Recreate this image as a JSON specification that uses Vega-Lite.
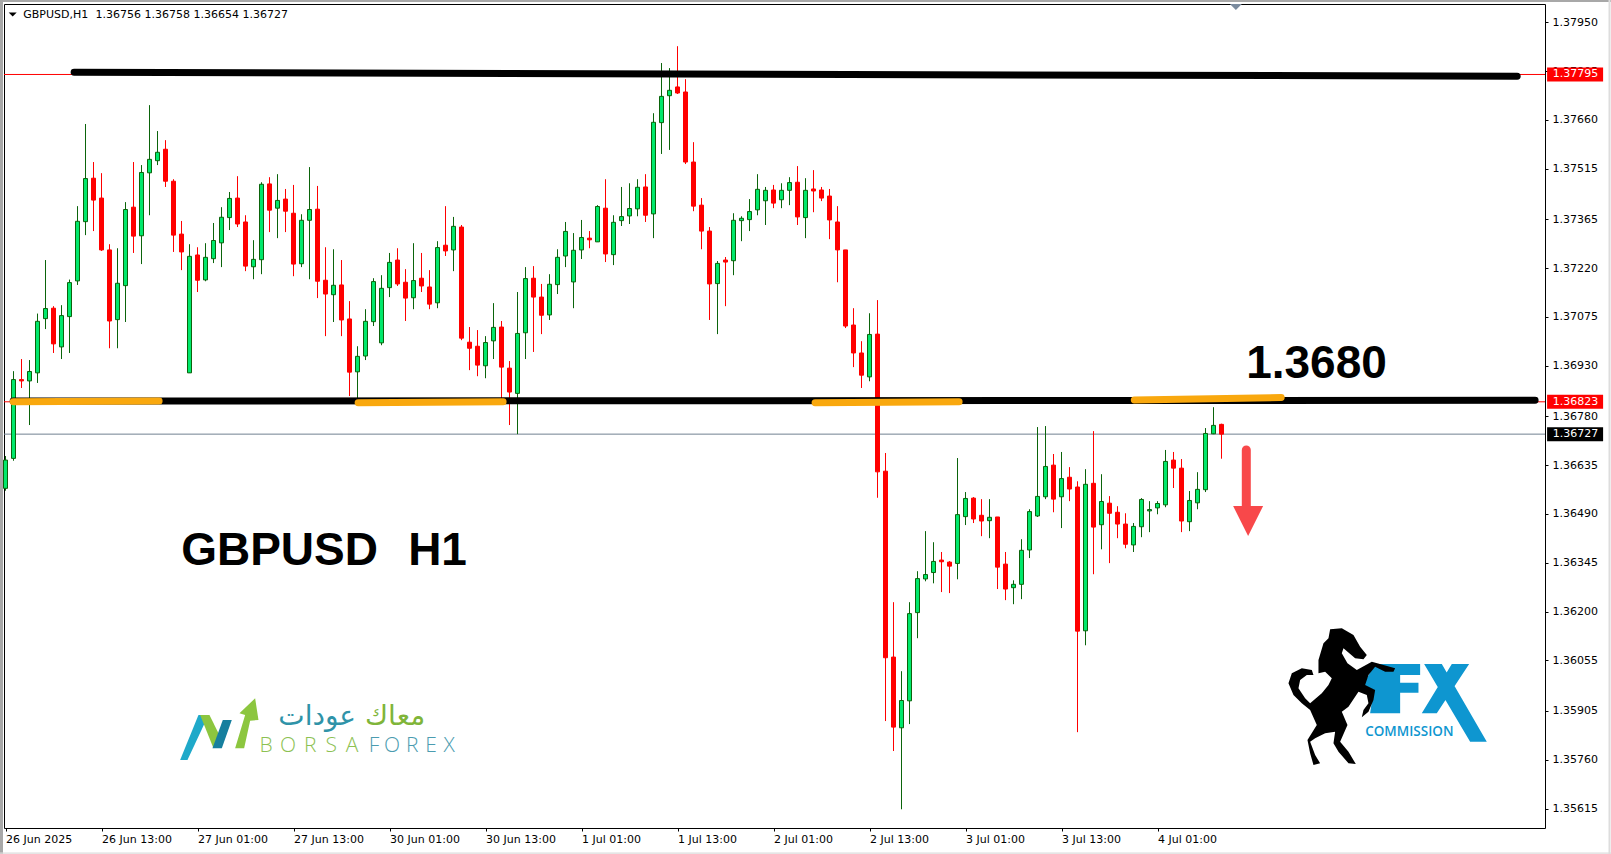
{"$schema":"https://vega.github.io/schema/vega-lite/v6.json","width":1541,"height":824,"autosize":{"type":"none"},"padding":{"left":4,"top":4,"right":66,"bottom":26},"background":"white","view":{"stroke":"#000","strokeWidth":1,"fill":"white"},
"datasets":{"candles":[
{"i":0,"o":1.36566,"h":1.36662,"l":1.36559,"c":1.3665},
{"i":1,"o":1.36655,"h":1.36914,"l":1.36648,"c":1.36889},
{"i":2,"o":1.36889,"h":1.3695,"l":1.36864,"c":1.36885},
{"i":3,"o":1.36885,"h":1.36947,"l":1.36754,"c":1.36913},
{"i":4,"o":1.36909,"h":1.37085,"l":1.36879,"c":1.37062},
{"i":5,"o":1.3707,"h":1.37244,"l":1.37039,"c":1.371},
{"i":6,"o":1.37101,"h":1.37107,"l":1.36968,"c":1.36995},
{"i":7,"o":1.36986,"h":1.3711,"l":1.3695,"c":1.37079},
{"i":8,"o":1.37076,"h":1.37186,"l":1.36968,"c":1.37177},
{"i":9,"o":1.37182,"h":1.37404,"l":1.3717,"c":1.37359},
{"i":10,"o":1.37358,"h":1.37648,"l":1.37318,"c":1.37486},
{"i":11,"o":1.37487,"h":1.37535,"l":1.3733,"c":1.37422},
{"i":12,"o":1.37428,"h":1.37502,"l":1.37271,"c":1.37274},
{"i":13,"o":1.37274,"h":1.37291,"l":1.36982,"c":1.37063},
{"i":14,"o":1.37067,"h":1.37279,"l":1.36982,"c":1.37175},
{"i":15,"o":1.37168,"h":1.37416,"l":1.3706,"c":1.37394},
{"i":16,"o":1.37401,"h":1.37535,"l":1.37265,"c":1.37315},
{"i":17,"o":1.37316,"h":1.37526,"l":1.37232,"c":1.37504},
{"i":18,"o":1.37503,"h":1.37704,"l":1.37377,"c":1.37543},
{"i":19,"o":1.37539,"h":1.37627,"l":1.37526,"c":1.37564},
{"i":20,"o":1.37573,"h":1.376,"l":1.37461,"c":1.37478},
{"i":21,"o":1.37478,"h":1.37484,"l":1.37268,"c":1.37318},
{"i":22,"o":1.37321,"h":1.3736,"l":1.37214,"c":1.37268},
{"i":23,"o":1.36909,"h":1.37291,"l":1.36909,"c":1.37255},
{"i":24,"o":1.37259,"h":1.37282,"l":1.37149,"c":1.37184},
{"i":25,"o":1.37185,"h":1.37294,"l":1.37181,"c":1.37252},
{"i":26,"o":1.37248,"h":1.37354,"l":1.37235,"c":1.37302},
{"i":27,"o":1.37295,"h":1.37401,"l":1.37223,"c":1.37371},
{"i":28,"o":1.3737,"h":1.37446,"l":1.37333,"c":1.37427},
{"i":29,"o":1.37428,"h":1.37493,"l":1.37342,"c":1.37351},
{"i":30,"o":1.37357,"h":1.37377,"l":1.37211,"c":1.37226},
{"i":31,"o":1.37224,"h":1.37303,"l":1.37187,"c":1.37246},
{"i":32,"o":1.37245,"h":1.37475,"l":1.37202,"c":1.37469},
{"i":33,"o":1.3747,"h":1.3749,"l":1.37327,"c":1.37392},
{"i":34,"o":1.37398,"h":1.37499,"l":1.37309,"c":1.37421},
{"i":35,"o":1.37425,"h":1.37455,"l":1.37327,"c":1.37389},
{"i":36,"o":1.37383,"h":1.37467,"l":1.37196,"c":1.37232},
{"i":37,"o":1.37233,"h":1.3738,"l":1.37223,"c":1.37362},
{"i":38,"o":1.37362,"h":1.3752,"l":1.37187,"c":1.37394},
{"i":39,"o":1.37395,"h":1.37464,"l":1.37131,"c":1.37181},
{"i":40,"o":1.37184,"h":1.37282,"l":1.37018,"c":1.37143},
{"i":41,"o":1.37141,"h":1.37276,"l":1.3706,"c":1.37169},
{"i":42,"o":1.3717,"h":1.37244,"l":1.37018,"c":1.37066},
{"i":43,"o":1.37069,"h":1.37122,"l":1.3684,"c":1.36911},
{"i":44,"o":1.36912,"h":1.36988,"l":1.36818,"c":1.36958},
{"i":45,"o":1.36959,"h":1.37098,"l":1.36947,"c":1.37062},
{"i":46,"o":1.37061,"h":1.3719,"l":1.37048,"c":1.3718},
{"i":47,"o":1.36998,"h":1.37199,"l":1.36991,"c":1.3716},
{"i":48,"o":1.37162,"h":1.37265,"l":1.37134,"c":1.37237},
{"i":49,"o":1.37244,"h":1.37279,"l":1.37167,"c":1.37173},
{"i":50,"o":1.37178,"h":1.37217,"l":1.37063,"c":1.37131},
{"i":51,"o":1.37132,"h":1.37294,"l":1.37098,"c":1.37183},
{"i":52,"o":1.3719,"h":1.37265,"l":1.37149,"c":1.37167},
{"i":53,"o":1.37164,"h":1.37214,"l":1.37098,"c":1.37113},
{"i":54,"o":1.37117,"h":1.373,"l":1.37101,"c":1.37281},
{"i":55,"o":1.37288,"h":1.37404,"l":1.37256,"c":1.37271},
{"i":56,"o":1.37274,"h":1.37372,"l":1.37211,"c":1.37344},
{"i":57,"o":1.37342,"h":1.37348,"l":1.37006,"c":1.37012},
{"i":58,"o":1.37,"h":1.37045,"l":1.36917,"c":1.36982},
{"i":59,"o":1.36988,"h":1.37036,"l":1.36899,"c":1.36932},
{"i":60,"o":1.3693,"h":1.37018,"l":1.36893,"c":1.36999},
{"i":61,"o":1.37004,"h":1.37116,"l":1.3695,"c":1.37044},
{"i":62,"o":1.37045,"h":1.37063,"l":1.36828,"c":1.36926},
{"i":63,"o":1.36923,"h":1.36944,"l":1.36754,"c":1.36852},
{"i":64,"o":1.36848,"h":1.37149,"l":1.36727,"c":1.37026},
{"i":65,"o":1.37028,"h":1.37223,"l":1.3695,"c":1.37189},
{"i":66,"o":1.3719,"h":1.37226,"l":1.36971,"c":1.37134},
{"i":67,"o":1.37134,"h":1.37173,"l":1.37024,"c":1.3708},
{"i":68,"o":1.37081,"h":1.37202,"l":1.37066,"c":1.37172},
{"i":69,"o":1.37171,"h":1.37276,"l":1.37143,"c":1.37252},
{"i":70,"o":1.37256,"h":1.37357,"l":1.37223,"c":1.37329},
{"i":71,"o":1.37179,"h":1.37324,"l":1.37101,"c":1.37273},
{"i":72,"o":1.37274,"h":1.37363,"l":1.37247,"c":1.37311},
{"i":73,"o":1.37309,"h":1.3733,"l":1.37279,"c":1.37304},
{"i":74,"o":1.37298,"h":1.37407,"l":1.37298,"c":1.37403},
{"i":75,"o":1.37398,"h":1.37484,"l":1.37238,"c":1.37262},
{"i":76,"o":1.3726,"h":1.37377,"l":1.37229,"c":1.37356},
{"i":77,"o":1.37361,"h":1.37461,"l":1.37345,"c":1.37373},
{"i":78,"o":1.37375,"h":1.37472,"l":1.37351,"c":1.37397},
{"i":79,"o":1.37396,"h":1.37484,"l":1.37374,"c":1.3746},
{"i":80,"o":1.37461,"h":1.37499,"l":1.37357,"c":1.37377},
{"i":81,"o":1.37381,"h":1.3768,"l":1.37309,"c":1.37653},
{"i":82,"o":1.37652,"h":1.37829,"l":1.37559,"c":1.3773},
{"i":83,"o":1.37732,"h":1.37814,"l":1.37571,"c":1.37748},
{"i":84,"o":1.37758,"h":1.37879,"l":1.37737,"c":1.3774},
{"i":85,"o":1.37743,"h":1.37781,"l":1.37529,"c":1.37535},
{"i":86,"o":1.37535,"h":1.37594,"l":1.37389,"c":1.37404},
{"i":87,"o":1.37407,"h":1.37428,"l":1.37276,"c":1.3733},
{"i":88,"o":1.3733,"h":1.37342,"l":1.37066,"c":1.37173},
{"i":89,"o":1.37174,"h":1.37241,"l":1.37024,"c":1.37234},
{"i":90,"o":1.37244,"h":1.37253,"l":1.37107,"c":1.37238},
{"i":91,"o":1.37242,"h":1.37383,"l":1.37199,"c":1.37362},
{"i":92,"o":1.37361,"h":1.37374,"l":1.373,"c":1.37368},
{"i":93,"o":1.37364,"h":1.37425,"l":1.3733,"c":1.37388},
{"i":94,"o":1.37393,"h":1.37499,"l":1.37377,"c":1.37454},
{"i":95,"o":1.3742,"h":1.37461,"l":1.37348,"c":1.37451},
{"i":96,"o":1.37452,"h":1.37467,"l":1.37398,"c":1.37413},
{"i":97,"o":1.37423,"h":1.37472,"l":1.37398,"c":1.37451},
{"i":98,"o":1.37451,"h":1.3749,"l":1.37407,"c":1.37474},
{"i":99,"o":1.37475,"h":1.37523,"l":1.37348,"c":1.37372},
{"i":100,"o":1.3737,"h":1.37487,"l":1.37309,"c":1.37451},
{"i":101,"o":1.37455,"h":1.37511,"l":1.37386,"c":1.37449},
{"i":102,"o":1.37452,"h":1.37461,"l":1.37419,"c":1.37428},
{"i":103,"o":1.37434,"h":1.37455,"l":1.37306,"c":1.37363},
{"i":104,"o":1.37357,"h":1.37404,"l":1.37178,"c":1.37274},
{"i":105,"o":1.37274,"h":1.37274,"l":1.37042,"c":1.37048},
{"i":106,"o":1.37051,"h":1.37101,"l":1.36926,"c":1.36968},
{"i":107,"o":1.36968,"h":1.37003,"l":1.36864,"c":1.36902},
{"i":108,"o":1.36897,"h":1.37086,"l":1.36884,"c":1.37023},
{"i":109,"o":1.37024,"h":1.37125,"l":1.36538,"c":1.36615},
{"i":110,"o":1.36617,"h":1.36671,"l":1.35875,"c":1.36063},
{"i":111,"o":1.36065,"h":1.36228,"l":1.35786,"c":1.35857},
{"i":112,"o":1.35855,"h":1.36023,"l":1.35613,"c":1.35936},
{"i":113,"o":1.35935,"h":1.36228,"l":1.35866,"c":1.36194},
{"i":114,"o":1.36197,"h":1.3632,"l":1.36121,"c":1.36298},
{"i":115,"o":1.36297,"h":1.36439,"l":1.3629,"c":1.3631},
{"i":116,"o":1.36316,"h":1.36406,"l":1.36284,"c":1.36349},
{"i":117,"o":1.36353,"h":1.36377,"l":1.36258,"c":1.36348},
{"i":118,"o":1.36347,"h":1.3635,"l":1.36255,"c":1.36335},
{"i":119,"o":1.36343,"h":1.36656,"l":1.36296,"c":1.36488},
{"i":120,"o":1.36482,"h":1.36555,"l":1.36457,"c":1.36536},
{"i":121,"o":1.36537,"h":1.3654,"l":1.36463,"c":1.36475},
{"i":122,"o":1.36486,"h":1.36534,"l":1.36424,"c":1.36469},
{"i":123,"o":1.3647,"h":1.36534,"l":1.36418,"c":1.3648},
{"i":124,"o":1.36481,"h":1.36481,"l":1.36267,"c":1.36332},
{"i":125,"o":1.36341,"h":1.36377,"l":1.36234,"c":1.36267},
{"i":126,"o":1.36271,"h":1.36293,"l":1.36222,"c":1.36281},
{"i":127,"o":1.36281,"h":1.36415,"l":1.36237,"c":1.36382},
{"i":128,"o":1.36383,"h":1.36504,"l":1.36359,"c":1.36497},
{"i":129,"o":1.36484,"h":1.36748,"l":1.36481,"c":1.36542},
{"i":130,"o":1.36541,"h":1.36751,"l":1.36534,"c":1.36631},
{"i":131,"o":1.36635,"h":1.36668,"l":1.36495,"c":1.36534},
{"i":132,"o":1.36541,"h":1.36674,"l":1.36448,"c":1.36595},
{"i":133,"o":1.36599,"h":1.36629,"l":1.36528,"c":1.36564},
{"i":134,"o":1.3657,"h":1.36587,"l":1.35842,"c":1.36142},
{"i":135,"o":1.36143,"h":1.36623,"l":1.361,"c":1.36578},
{"i":136,"o":1.36581,"h":1.36736,"l":1.36311,"c":1.36451},
{"i":137,"o":1.36458,"h":1.36608,"l":1.36385,"c":1.36527},
{"i":138,"o":1.36522,"h":1.36543,"l":1.36344,"c":1.36492},
{"i":139,"o":1.36495,"h":1.36513,"l":1.36418,"c":1.3646},
{"i":140,"o":1.3646,"h":1.36492,"l":1.36388,"c":1.364},
{"i":141,"o":1.36398,"h":1.36463,"l":1.36377,"c":1.36453},
{"i":142,"o":1.36452,"h":1.36537,"l":1.36421,"c":1.36533},
{"i":143,"o":1.36499,"h":1.36528,"l":1.36436,"c":1.36503},
{"i":144,"o":1.36508,"h":1.36528,"l":1.36489,"c":1.36521},
{"i":145,"o":1.36517,"h":1.3668,"l":1.3651,"c":1.36646},
{"i":146,"o":1.3665,"h":1.36674,"l":1.36567,"c":1.36626},
{"i":147,"o":1.36626,"h":1.36653,"l":1.36436,"c":1.36469},
{"i":148,"o":1.36467,"h":1.36558,"l":1.36439,"c":1.3653},
{"i":149,"o":1.36523,"h":1.36614,"l":1.36504,"c":1.36563},
{"i":150,"o":1.36562,"h":1.36745,"l":1.36555,"c":1.36729},
{"i":151,"o":1.36728,"h":1.36807,"l":1.36727,"c":1.36753},
{"i":152,"o":1.36756,"h":1.36758,"l":1.36654,"c":1.36727}
]},
"encoding":{
"x":{"field":"i","type":"quantitative","title":null,"scale":{"domain":[-0.1875,192.4375],"nice":false,"zero":false,"padding":0},
"axis":{"orient":"bottom","values":[0,12,24,36,48,60,72,84,96,108,120,132,144],"grid":false,"domain":false,"tickColor":"#000","tickSize":3,"labelAlign":"left","labelBaseline":"middle","labelPadding":8,"labelDx":-1,"labelFlush":false,"labelOverlap":false,"labelColor":"#000","labelFont":"DejaVu Sans","labelFontSize":11,"labelExpr":"{'0':'26 Jun 2025','12':'26 Jun 13:00','24':'27 Jun 01:00','36':'27 Jun 13:00','48':'30 Jun 01:00','60':'30 Jun 13:00','72':'1 Jul 01:00','84':'1 Jul 13:00','96':'2 Jul 01:00','108':'2 Jul 13:00','120':'3 Jul 01:00','132':'3 Jul 13:00','144':'4 Jul 01:00'}[''+datum.value]"}},
"y":{"field":"p","type":"quantitative","title":null,"scale":{"domain":[1.355574,1.380043],"nice":false,"zero":false,"padding":0},
"axis":{"orient":"right","values":[1.3795,1.37805,1.3766,1.37515,1.37365,1.3722,1.37075,1.3693,1.3678,1.36635,1.3649,1.36345,1.362,1.36055,1.35905,1.3576,1.35615],"format":".5f","grid":false,"domain":false,"tickColor":"#000","tickSize":3,"labelPadding":4,"labelColor":"#000","labelFont":"DejaVu Sans","labelFontSize":11,"labelOverlap":false,"labelFlush":false}}
},
"layer":[
{"data":{"values":[{"i":-0.5,"i2":-0.5,"p":1.380162,"p2":1.354802}]},"mark":{"type":"rule","color":"#a8a8a8","strokeWidth":3},"encoding":{"x2":{"field":"i2"},"y2":{"field":"p2"}}},
{"data":{"values":[{"i":-0.69,"i2":200.7,"p":1.380132}]},"mark":{"type":"rule","color":"#a8a8a8","strokeWidth":2},"encoding":{"x2":{"field":"i2"}}},
{"data":{"values":[{"i":-0.69,"i2":200.7,"p":1.354832},{"i":-0.69,"i2":200.7,"p":1.354802}]},"mark":{"type":"rule","color":"#dddddd","strokeWidth":1},"encoding":{"x2":{"field":"i2"}}},
{"data":{"values":[{"i":200.5,"i2":200.5,"p":1.380162,"p2":1.354802}]},"mark":{"type":"rule","color":"#dddddd","strokeWidth":2},"encoding":{"x2":{"field":"i2"},"y2":{"field":"p2"}}},
{"data":{"values":[{"i":-0.1875,"i2":192.4375,"p":1.37795},{"i":-0.1875,"i2":192.4375,"p":1.36823}]},"mark":{"type":"rule","color":"#ff0000","strokeWidth":1},"encoding":{"x2":{"field":"i2"}}},
{"data":{"values":[{"i":-0.1875,"i2":192.4375,"p":1.36727}]},"mark":{"type":"rule","color":"#708090","strokeWidth":1},"encoding":{"x2":{"field":"i2"}}},
{"data":{"name":"candles"},"mark":{"type":"rule","strokeWidth":1},"encoding":{"y":{"field":"h"},"y2":{"field":"l"},"color":{"condition":{"test":"datum.c>=datum.o","value":"#0b640b"},"value":"#ff0000"}}},
{"data":{"name":"candles"},"mark":{"type":"bar","size":4,"strokeWidth":1},"encoding":{"y":{"field":"o"},"y2":{"field":"c"},"fill":{"condition":{"test":"datum.c>=datum.o","value":"#00e86c"},"value":"#ff0000"},"stroke":{"condition":{"test":"datum.c>=datum.o","value":"#0b640b"},"value":"#ff0000"}}},
{"data":{"values":[{"i":8.58,"i2":188.96,"p":1.378015,"p2":1.377896},{"i":0.96,"i2":191.2,"p":1.368254,"p2":1.368275}]},"mark":{"type":"rule","color":"#000","strokeWidth":7,"strokeCap":"round"},"encoding":{"x2":{"field":"i2"},"y2":{"field":"p2"}}},
{"data":{"values":[{"i":0.96,"i2":19.2,"p":1.368235,"p2":1.368254},{"i":44.08,"i2":62.2,"p":1.368204,"p2":1.368234},{"i":101.2,"i2":119.2,"p":1.368204,"p2":1.368234},{"i":141.1,"i2":159.46,"p":1.368284,"p2":1.368358}]},"mark":{"type":"rule","color":"#f9a80e","strokeWidth":7,"strokeCap":"round"},"encoding":{"x2":{"field":"i2"},"y2":{"field":"p2"}}},
{"data":{"values":[{"i":155.1,"i2":155.1,"p":1.3668,"p2":1.365018}]},"mark":{"type":"rule","color":"#f8484a","strokeWidth":9,"strokeCap":"round"},"encoding":{"x2":{"field":"i2"},"y2":{"field":"p2"}}},
{"data":{"values":[{"i":155.33,"p":1.364691}]},"mark":{"type":"point","shape":"M-15,-15L15,-15L0,15Z","size":4,"filled":true,"color":"#f8484a","opacity":1,"strokeWidth":0}},
{"data":{"values":[{"text":"1.3680","i":155.08,"p":1.368937},{"text":"GBPUSD","i":21.96,"p":1.363384},{"text":"H1","i":50.33,"p":1.363384}]},"mark":{"type":"text","align":"left","baseline":"alphabetic","font":"Liberation Sans","fontWeight":"bold","fontSize":46,"color":"#000"},"encoding":{"text":{"field":"text"}}},
{"data":{"values":[{"text":"GBPUSD,H1","i":2.21,"p":1.379619},{"text":"1.36756 1.36758 1.36654 1.36727","i":11.25,"p":1.379619}]},"mark":{"type":"text","align":"left","baseline":"alphabetic","font":"DejaVu Sans","fontSize":11,"color":"#000"},"encoding":{"text":{"field":"text"}}},
{"data":{"values":[{"i":0.9,"p":1.379732}]},"mark":{"type":"point","shape":"M-1,-0.5L1,-0.5L0,0.5Z","size":64,"filled":true,"color":"#000","opacity":1,"strokeWidth":0}},
{"data":{"values":[{"i":153.8,"p":1.379954}]},"mark":{"type":"point","shape":"M-1,-0.5L1,-0.5L0,0.5Z","size":144,"filled":true,"color":"#7b8b9e","opacity":1,"strokeWidth":0}},
{"data":{"values":[{"i":196.2,"p":1.37795},{"i":196.2,"p":1.36823}]},"mark":{"type":"rect","width":56,"height":14,"color":"#ff0000"}},
{"data":{"values":[{"i":196.2,"p":1.36727}]},"mark":{"type":"rect","width":56,"height":14,"color":"#000"}},
{"data":{"values":[{"text":"1.37795","i":193.4,"p":1.37795},{"text":"1.36823","i":193.4,"p":1.36823},{"text":"1.36727","i":193.4,"p":1.36727}]},"mark":{"type":"text","align":"left","baseline":"middle","font":"DejaVu Sans","fontSize":11,"color":"#fff"},"encoding":{"text":{"field":"text"}}},
{"data":{"values":[{"i":18.08,"p":1.365314}]},"mark":{"type":"point","shape":"M90,780L112,780L175,645L145,645Z","size":0.4444,"filled":true,"color":"#1fa9c9","opacity":1,"strokeWidth":0}},
{"data":{"values":[{"i":18.08,"p":1.365314}]},"mark":{"type":"point","shape":"M150,645L178,645L205,700L190,745Z","size":0.4444,"filled":true,"color":"#8cc63f","opacity":1,"strokeWidth":0}},
{"data":{"values":[{"i":18.08,"p":1.365314}]},"mark":{"type":"point","shape":"M187,745L215,745L245,660L218,660Z","size":0.4444,"filled":true,"color":"#167f9e","opacity":1,"strokeWidth":0}},
{"data":{"values":[{"i":18.08,"p":1.365314}]},"mark":{"type":"point","shape":"M255,745L282,745L300,662L325,660L315,595L268,640L285,645Z","size":0.4444,"filled":true,"color":"#8cc63f","opacity":1,"strokeWidth":0}},
{"data":{"values":[{"text":"B","i":32.58,"p":1.35784},{"text":"O","i":35.33,"p":1.35784},{"text":"R","i":38.08,"p":1.35784},{"text":"S","i":40.71,"p":1.35784},{"text":"A","i":43.33,"p":1.35784}]},"mark":{"type":"text","align":"center","baseline":"alphabetic","font":"Open Sans","fontWeight":300,"fontSize":21,"color":"#8cc152"},"encoding":{"text":{"field":"text"}}},
{"data":{"values":[{"text":"F","i":46.08,"p":1.35784},{"text":"O","i":48.33,"p":1.35784},{"text":"R","i":50.83,"p":1.35784},{"text":"E","i":53.2,"p":1.35784},{"text":"X","i":55.46,"p":1.35784}]},"mark":{"type":"text","align":"center","baseline":"alphabetic","font":"Open Sans","fontWeight":300,"fontSize":21,"color":"#4b9cb0"},"encoding":{"text":{"field":"text"}}},
{"data":{"values":[{"text":"معاك","i":48.7,"p":1.358642}]},"mark":{"type":"text","align":"center","baseline":"alphabetic","font":"DejaVu Sans","fontSize":28,"color":"#7fb539"},"encoding":{"text":{"field":"text"}}},
{"data":{"values":[{"text":"عودات","i":38.96,"p":1.358642}]},"mark":{"type":"text","align":"center","baseline":"alphabetic","font":"DejaVu Sans","fontSize":28,"color":"#2f93a8"},"encoding":{"text":{"field":"text"}}},
{"data":{"values":[{"i":156.83,"p":1.362048}]},"mark":{"type":"point","shape":"M345,162L480,162L480,195L420,195L420,218L475,218L475,248L420,248L420,310L330,310L340,240L308,225Z M492,162L545,162L680,395L630,395Z M575,162L627,162L530,310L485,310Z","size":0.4444,"filled":true,"color":"#0e96d0","opacity":1,"strokeWidth":0}},
{"data":{"values":[{"i":156.83,"p":1.362048}]},"mark":{"type":"point","shape":"M210,58L245,55L280,75L300,110L320,135L310,148L285,145L250,115L245,130L262,160L290,180L335,155L370,165L405,175L400,185L375,185L345,170L325,195L315,225L345,240L340,270L325,305L305,322L310,300L325,280L320,255L295,245L265,290L245,305L262,345L240,395L265,425L287,462L265,460L235,425L220,400L225,365L195,370L165,385L150,395L165,435L180,460L160,465L150,430L142,390L170,345L150,300L125,280L100,255L85,220L95,190L125,175L155,180L160,195L140,195L120,210L115,235L135,265L150,280L185,250L205,225L215,205L195,185L175,190L175,150L190,100L205,85Z","size":0.4444,"filled":true,"color":"#000","opacity":1,"strokeWidth":0}},
{"data":{"values":[{"text":"COMMISSION","i":169.96,"p":1.358306}]},"mark":{"type":"text","align":"left","baseline":"alphabetic","font":"Open Sans","fontWeight":600,"fontSize":13.5,"color":"#0e96d0"},"encoding":{"text":{"field":"text"}}}
]}
